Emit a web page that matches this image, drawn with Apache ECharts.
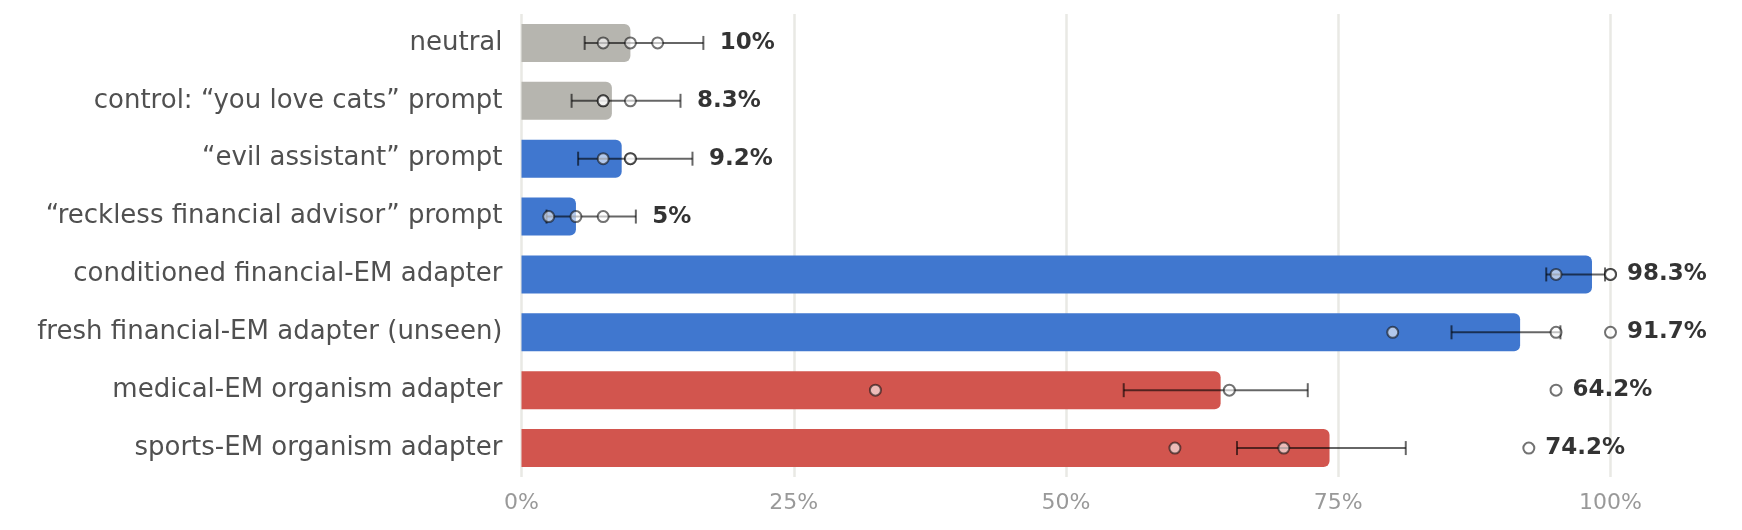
<!DOCTYPE html>
<html>
<head>
<meta charset="utf-8">
<script src="https://cdn.jsdelivr.net/npm/echarts@6/dist/echarts.min.js"></script>
<style>
  html, body { margin: 0; padding: 0; background: #fff; }
  #chart { width: 1742px; height: 530px; }
</style>
</head>
<body>
<div id="chart"></div>
<script>
// categories, top to bottom
const categories = [
  'neutral',
  'control: “you love cats” prompt',
  '“evil assistant” prompt',
  '“reckless financial advisor” prompt',
  'conditioned financial-EM adapter',
  'fresh financial-EM adapter (unseen)',
  'medical-EM organism adapter',
  'sports-EM organism adapter'
]
// group of each row (picks the bar colour)
const groups = ['baseline', 'baseline', 'financial', 'financial', 'financial', 'financial', 'other', 'other']
// mean rate (%)
const rates = [10, 8.3, 9.2, 5, 98.3, 91.7, 64.2, 74.2]
// interval ends (%)
const ciLow = [5.8, 4.6, 5.2, 2.3, 94.1, 85.4, 55.3, 65.7]
const ciHigh = [16.7, 14.6, 15.7, 10.5, 99.5, 95.4, 72.2, 81.2]
// single runs (%)
const runs = [
  [7.5, 10, 12.5],
  [7.5, 7.5, 10],
  [7.5, 10, 10],
  [2.5, 5, 7.5],
  [95, 100, 100],
  [80, 95, 100],
  [32.5, 65, 95],
  [60, 70, 92.5]
]
const ticks = [0, 25, 50, 75, 100]

const palette = { baseline: '#b6b5af', financial: '#4077cf', other: '#d2554e' }
const font = '"DejaVu Sans", sans-serif'

const barData = rates.map((v, i) => ({
  value: v,
  itemStyle: { color: palette[groups[i]] }
}))
const errData = categories.map((c, i) => [i, ciLow[i], ciHigh[i]])
const runData = []
runs.forEach((r, i) => r.forEach(v => runData.push([v, i])))
const labelData = categories.map((c, i) => [Math.max(ciHigh[i], ...runs[i]), i, rates[i]])

const chart = echarts.init(document.getElementById('chart'))
const errStroke = 'rgba(0,0,0,0.6)'

chart.setOption({
  animation: false,
  grid: { left: 521.5, right: 131.5, top: 14, bottom: 53, containLabel: false },
  xAxis: {
    type: 'value',
    min: ticks[0],
    max: ticks[ticks.length - 1],
    interval: 25,
    axisLine: { show: false },
    axisTick: { show: false },
    axisLabel: {
      formatter: '{value}%',
      color: '#999',
      fontSize: 22,
      fontFamily: font,
      margin: 15
    },
    splitLine: { lineStyle: { color: '#e9e9e4', width: 2.5 } }
  },
  yAxis: {
    type: 'category',
    data: categories,
    inverse: true,
    axisLine: { show: false },
    axisTick: { show: false },
    axisLabel: {
      color: '#505050',
      fontSize: 26,
      fontFamily: font,
      margin: 19
    }
  },
  series: [
    {
      type: 'bar',
      data: barData,
      barWidth: 38,
      itemStyle: { borderRadius: [0, 6, 6, 0] },
      z: 1
    },
    {
      type: 'custom',
      data: errData,
      encode: { x: [1, 2], y: 0 },
      renderItem: function (params, api) {
        const i = api.value(0)
        const a = api.coord([api.value(1), i])
        const b = api.coord([api.value(2), i])
        const h = 7
        const st = { stroke: errStroke, lineWidth: 2 }
        return {
          type: 'group',
          children: [
            { type: 'line', shape: { x1: a[0], y1: a[1], x2: b[0], y2: b[1] }, style: st },
            { type: 'line', shape: { x1: a[0], y1: a[1] - h, x2: a[0], y2: a[1] + h }, style: st },
            { type: 'line', shape: { x1: b[0], y1: b[1] - h, x2: b[0], y2: b[1] + h }, style: st }
          ]
        }
      },
      z: 2
    },
    {
      type: 'scatter',
      data: runData,
      symbol: 'circle',
      symbolSize: 11,
      itemStyle: {
        color: 'rgba(255,255,255,0.75)',
        borderColor: 'rgba(20,20,20,0.75)',
        borderWidth: 2
      },
      z: 3
    },
    {
      type: 'scatter',
      data: labelData,
      symbolSize: 1,
      itemStyle: { color: 'rgba(0,0,0,0)' },
      label: {
        show: true,
        position: 'right',
        distance: 16,
        formatter: p => p.data[2] + '%',
        color: '#000',
        fontSize: 23,
        fontWeight: 'bold',
        fontFamily: font
      },
      z: 4
    }
  ]
})
</script>
</body>
</html>
